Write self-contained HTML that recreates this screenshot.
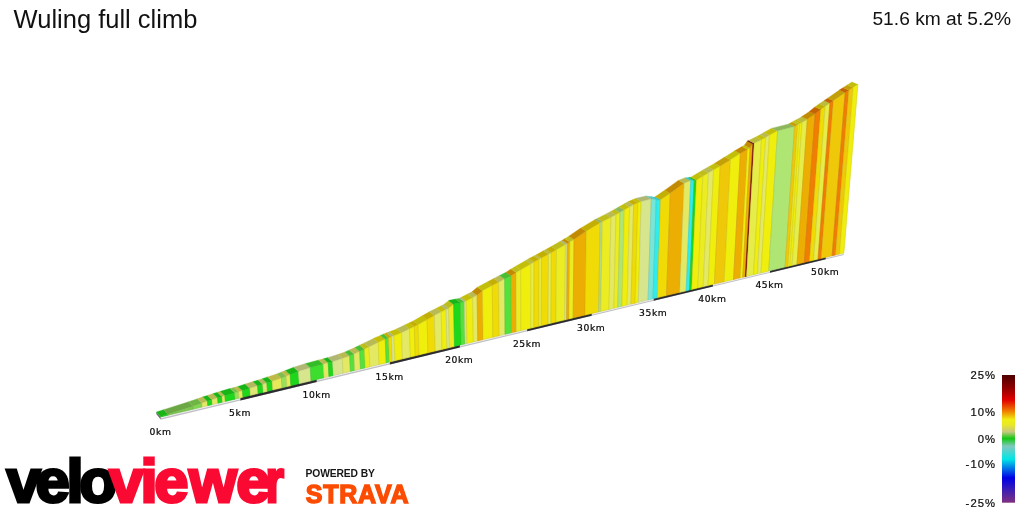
<!DOCTYPE html>
<html><head><meta charset="utf-8"><title>Wuling full climb</title>
<style>
html,body{margin:0;padding:0;background:#fff;}
body{width:1024px;height:512px;overflow:hidden;position:relative;font-family:"Liberation Sans",sans-serif;color:#111;}
#title{position:absolute;left:13.6px;top:3.7px;font-size:25.5px;line-height:30px;white-space:nowrap;color:#111;}
#stat{position:absolute;right:12.9px;top:7px;font-size:19.2px;line-height:24px;white-space:nowrap;color:#111;}
svg{position:absolute;left:0;top:0;}
.km{font-family:"DejaVu Sans","Liberation Sans",sans-serif;font-size:9.2px;letter-spacing:0.55px;fill:#0a0a0a;stroke:#0a0a0a;stroke-width:0.22px;text-anchor:middle;}
.lg{font-family:"Liberation Sans",sans-serif;font-size:11.3px;letter-spacing:1.05px;fill:#0c0c0c;stroke:#0c0c0c;stroke-width:0.2px;text-anchor:end;}
</style></head><body>
<div id="title">Wuling full climb</div>
<div id="stat">51.6 km at 5.2%</div>
<svg width="1024" height="512" viewBox="0 0 1024 512">
<defs>
<linearGradient id="lgd" x1="0" y1="0" x2="0" y2="1">
<stop offset="0" stop-color="#4c0000"/>
<stop offset="0.11" stop-color="#960000"/>
<stop offset="0.195" stop-color="#e20000"/>
<stop offset="0.285" stop-color="#f08200"/>
<stop offset="0.35" stop-color="#f0f014"/>
<stop offset="0.39" stop-color="#e8e828"/>
<stop offset="0.445" stop-color="#c8c882"/>
<stop offset="0.497" stop-color="#14c814"/>
<stop offset="0.558" stop-color="#82c8be"/>
<stop offset="0.659" stop-color="#00e6e6"/>
<stop offset="0.806" stop-color="#0000e6"/>
<stop offset="0.90" stop-color="#3c1eb4"/>
<stop offset="1" stop-color="#803080"/>
</linearGradient>

</defs>
<g shape-rendering="geometricPrecision">
<polygon points="160.70,416.74 843.90,252.81 843.90,253.95 160.70,418.32" fill="#f2f2f4"/>
<polygon points="160.70,418.32 843.90,253.95 843.90,254.90 160.70,419.65" fill="#c0c0c5"/>
<polygon points="240.40,397.57 316.70,379.25 316.70,382.03 240.40,400.43" fill="#2a2a30"/>
<polygon points="389.90,361.68 459.80,344.90 459.80,347.52 389.90,364.38" fill="#2a2a30"/>
<polygon points="527.20,328.72 591.70,313.24 591.70,315.72 527.20,331.27" fill="#2a2a30"/>
<polygon points="653.70,298.36 712.90,284.15 712.90,286.49 653.70,300.77" fill="#2a2a30"/>
<polygon points="770.00,270.44 825.70,257.07 825.70,259.29 770.00,272.72" fill="#2a2a30"/>
<polygon points="160.70,416.50 160.70,419.50 156.30,414.00 156.30,411.90" fill="#6e6e6e"/>
<polygon points="160.65,416.50 160.70,416.50 167.95,414.20 163.53,409.63 156.30,411.90 156.25,411.90" fill="#18b516" stroke="#18b516" stroke-width="0.3"/>
<polygon points="167.95,414.20 192.25,406.50 192.88,406.28 188.41,401.78 187.78,402.00 163.53,409.63" fill="#6ba844" stroke="#6ba844" stroke-width="0.3"/>
<polygon points="192.88,406.28 201.90,403.15 197.41,398.68 188.41,401.78" fill="#6fb544" stroke="#6fb544" stroke-width="0.3"/>
<polygon points="201.90,403.15 207.25,401.30 207.35,401.27 202.85,396.81 202.75,396.84 197.41,398.68" fill="#b9ba51" stroke="#b9ba51" stroke-width="0.3"/>
<polygon points="207.35,401.27 211.93,399.83 207.42,395.38 202.85,396.81" fill="#18b516" stroke="#18b516" stroke-width="0.3"/>
<polygon points="211.93,399.83 217.60,398.04 213.08,393.62 207.42,395.38" fill="#b9ba51" stroke="#b9ba51" stroke-width="0.3"/>
<polygon points="217.60,398.04 221.98,396.67 217.45,392.25 213.08,393.62" fill="#18b516" stroke="#18b516" stroke-width="0.3"/>
<polygon points="221.98,396.67 224.10,396.00 224.87,395.77 220.33,391.37 219.56,391.59 217.45,392.25" fill="#b9ba51" stroke="#b9ba51" stroke-width="0.3"/>
<polygon points="224.87,395.77 234.10,393.00 234.64,392.86 230.08,388.49 229.54,388.62 220.33,391.37" fill="#18b516" stroke="#18b516" stroke-width="0.3"/>
<polygon points="234.64,392.86 238.54,391.86 233.97,387.49 230.08,388.49" fill="#81bd4d" stroke="#81bd4d" stroke-width="0.3"/>
<polygon points="238.54,391.86 242.25,390.90 242.44,390.84 237.86,386.48 237.67,386.55 233.97,387.49" fill="#bdba47" stroke="#bdba47" stroke-width="0.3"/>
<polygon points="242.44,390.84 249.80,388.35 245.21,384.02 237.86,386.48" fill="#18b516" stroke="#18b516" stroke-width="0.3"/>
<polygon points="249.80,388.35 253.80,387.00 257.57,385.92 252.96,381.62 249.20,382.68 245.21,384.02" fill="#b4b75e" stroke="#b4b75e" stroke-width="0.3"/>
<polygon points="257.57,385.92 259.75,385.30 262.66,384.34 258.04,380.05 255.13,381.00 252.96,381.62" fill="#18b516" stroke="#18b516" stroke-width="0.3"/>
<polygon points="262.66,384.34 266.84,382.96 262.21,378.69 258.04,380.05" fill="#b4b75e" stroke="#b4b75e" stroke-width="0.3"/>
<polygon points="266.84,382.96 272.12,381.22 267.48,376.96 262.21,378.69" fill="#18b516" stroke="#18b516" stroke-width="0.3"/>
<polygon points="272.12,381.22 281.00,378.30 281.39,378.15 276.73,373.91 276.34,374.07 267.48,376.96" fill="#bdba47" stroke="#bdba47" stroke-width="0.3"/>
<polygon points="281.39,378.15 286.25,376.20 281.58,371.98 276.73,373.91" fill="#81bd4d" stroke="#81bd4d" stroke-width="0.3"/>
<polygon points="286.25,376.20 289.75,374.80 290.12,374.66 285.44,370.45 285.07,370.59 281.58,371.98" fill="#bdba47" stroke="#bdba47" stroke-width="0.3"/>
<polygon points="290.12,374.66 298.37,371.45 293.67,367.26 285.44,370.45" fill="#18b516" stroke="#18b516" stroke-width="0.3"/>
<polygon points="298.37,371.45 299.00,371.20 310.24,367.65 305.52,363.50 294.30,367.02 293.67,367.26" fill="#afb772" stroke="#afb772" stroke-width="0.3"/>
<polygon points="310.24,367.65 310.40,367.60 323.25,364.17 318.50,360.07 305.68,363.45 305.52,363.50" fill="#35bb27" stroke="#35bb27" stroke-width="0.3"/>
<polygon points="323.25,364.17 328.16,362.86 323.40,358.77 318.50,360.07" fill="#b9ba51" stroke="#b9ba51" stroke-width="0.3"/>
<polygon points="328.16,362.86 332.57,361.69 327.79,357.61 323.40,358.77" fill="#18b516" stroke="#18b516" stroke-width="0.3"/>
<polygon points="332.57,361.69 332.90,361.60 342.35,358.46 337.55,354.41 328.13,357.52 327.79,357.61" fill="#afb772" stroke="#afb772" stroke-width="0.3"/>
<polygon points="342.35,358.46 349.64,356.04 344.83,352.01 337.55,354.41" fill="#b9ba51" stroke="#b9ba51" stroke-width="0.3"/>
<polygon points="349.64,356.04 349.75,356.00 354.00,354.04 349.19,350.03 344.94,351.97 344.83,352.01" fill="#49bd33" stroke="#49bd33" stroke-width="0.3"/>
<polygon points="354.00,354.04 359.67,351.44 354.84,347.44 349.19,350.03" fill="#b9ba51" stroke="#b9ba51" stroke-width="0.3"/>
<polygon points="359.67,351.44 364.44,349.24 359.60,345.26 354.84,347.44" fill="#49bd33" stroke="#49bd33" stroke-width="0.3"/>
<polygon points="364.44,349.24 364.75,349.10 369.00,346.98 364.15,343.01 359.91,345.12 359.60,345.26" fill="#bfbd1b" stroke="#bfbd1b" stroke-width="0.3"/>
<polygon points="369.00,346.98 378.25,342.38 373.38,338.44 364.15,343.01" fill="#b9ba51" stroke="#b9ba51" stroke-width="0.3"/>
<polygon points="378.25,342.38 378.50,342.25 385.23,339.32 380.34,335.40 373.63,338.31 373.38,338.44" fill="#c3be09" stroke="#c3be09" stroke-width="0.3"/>
<polygon points="385.23,339.32 388.52,337.89 383.63,333.98 380.34,335.40" fill="#49bd33" stroke="#49bd33" stroke-width="0.3"/>
<polygon points="388.52,337.89 391.42,336.76 386.52,332.85 383.63,333.98" fill="#c3ae04" stroke="#c3ae04" stroke-width="0.3"/>
<polygon points="391.42,336.76 394.02,335.74 389.12,331.84 386.52,332.85" fill="#afb772" stroke="#afb772" stroke-width="0.3"/>
<polygon points="394.02,335.74 401.00,333.00 401.62,332.70 396.70,328.83 396.08,329.13 389.12,331.84" fill="#c3be09" stroke="#c3be09" stroke-width="0.3"/>
<polygon points="401.62,332.70 409.51,328.92 404.57,325.07 396.70,328.83" fill="#b9ba51" stroke="#b9ba51" stroke-width="0.3"/>
<polygon points="409.51,328.92 414.30,326.61 409.36,322.78 404.57,325.07" fill="#c3be09" stroke="#c3be09" stroke-width="0.3"/>
<polygon points="414.30,326.61 418.10,324.79 413.15,320.97 409.36,322.78" fill="#c3ae04" stroke="#c3ae04" stroke-width="0.3"/>
<polygon points="418.10,324.79 418.50,324.60 427.09,319.66 422.11,315.87 413.54,320.78 413.15,320.97" fill="#c3be09" stroke="#c3be09" stroke-width="0.3"/>
<polygon points="427.09,319.66 434.38,315.46 429.39,311.69 422.11,315.87" fill="#c3ae04" stroke="#c3ae04" stroke-width="0.3"/>
<polygon points="434.38,315.46 434.75,315.25 441.20,312.04 436.19,308.29 429.76,311.48 429.39,311.69" fill="#b9ba51" stroke="#b9ba51" stroke-width="0.3"/>
<polygon points="441.20,312.04 446.11,309.59 441.09,305.85 436.19,308.29" fill="#c3be09" stroke="#c3be09" stroke-width="0.3"/>
<polygon points="446.11,309.59 448.50,308.40 448.62,308.31 443.60,304.58 443.48,304.67 441.09,305.85" fill="#afb772" stroke="#afb772" stroke-width="0.3"/>
<polygon points="448.62,308.31 453.61,304.38 448.58,300.67 443.60,304.58" fill="#bfbd1b" stroke="#bfbd1b" stroke-width="0.3"/>
<polygon points="453.61,304.38 454.10,304.00 460.38,302.81 455.33,299.11 449.07,300.29 448.58,300.67" fill="#18b516" stroke="#18b516" stroke-width="0.3"/>
<polygon points="460.38,302.81 464.10,302.10 464.32,301.98 459.27,298.30 459.04,298.42 455.33,299.11" fill="#49bd33" stroke="#49bd33" stroke-width="0.3"/>
<polygon points="464.32,301.98 466.23,300.99 461.17,297.31 459.27,298.30" fill="#afb772" stroke="#afb772" stroke-width="0.3"/>
<polygon points="466.23,300.99 472.67,297.63 467.60,293.98 461.17,297.31" fill="#c3be09" stroke="#c3be09" stroke-width="0.3"/>
<polygon points="472.67,297.63 477.10,295.33 472.02,291.68 467.60,293.98" fill="#b9ba51" stroke="#b9ba51" stroke-width="0.3"/>
<polygon points="477.10,295.33 477.25,295.25 482.25,290.90 482.52,290.75 477.43,287.13 477.15,287.27 472.17,291.61 472.02,291.68" fill="#c18a02" stroke="#c18a02" stroke-width="0.3"/>
<polygon points="482.52,290.75 491.60,285.90 492.31,285.53 487.19,281.93 486.48,282.30 477.43,287.13" fill="#c3be09" stroke="#c3be09" stroke-width="0.3"/>
<polygon points="492.31,285.53 498.78,282.13 493.65,278.56 487.19,281.93" fill="#c3ae04" stroke="#c3ae04" stroke-width="0.3"/>
<polygon points="498.78,282.13 504.65,279.05 499.50,275.50 493.65,278.56" fill="#b9ba51" stroke="#b9ba51" stroke-width="0.3"/>
<polygon points="504.65,279.05 504.75,279.00 511.00,275.90 511.13,275.82 505.97,272.28 505.84,272.36 499.61,275.44 499.50,275.50" fill="#49bd33" stroke="#49bd33" stroke-width="0.3"/>
<polygon points="511.13,275.82 515.60,272.90 516.09,272.61 510.92,269.09 510.43,269.37 505.97,272.28" fill="#c18a02" stroke="#c18a02" stroke-width="0.3"/>
<polygon points="516.09,272.61 520.75,269.88 515.57,266.37 510.92,269.09" fill="#bfbd1b" stroke="#bfbd1b" stroke-width="0.3"/>
<polygon points="520.75,269.88 530.91,263.92 525.71,260.44 515.57,266.37" fill="#c3be09" stroke="#c3be09" stroke-width="0.3"/>
<polygon points="530.91,263.92 533.75,262.25 534.06,262.08 528.85,258.61 528.54,258.78 525.71,260.44" fill="#bbbc3a" stroke="#bbbc3a" stroke-width="0.3"/>
<polygon points="534.06,262.08 539.14,259.35 533.93,255.89 528.85,258.61" fill="#c3ae04" stroke="#c3ae04" stroke-width="0.3"/>
<polygon points="539.14,259.35 541.48,258.09 536.26,254.64 533.93,255.89" fill="#bbbc3a" stroke="#bbbc3a" stroke-width="0.3"/>
<polygon points="541.48,258.09 548.51,254.30 543.27,250.87 536.26,254.64" fill="#c3ae04" stroke="#c3ae04" stroke-width="0.3"/>
<polygon points="548.51,254.30 550.00,253.50 551.37,252.72 546.12,249.30 544.76,250.08 543.27,250.87" fill="#bbbc3a" stroke="#bbbc3a" stroke-width="0.3"/>
<polygon points="551.37,252.72 556.47,249.80 551.21,246.40 546.12,249.30" fill="#c3ae04" stroke="#c3ae04" stroke-width="0.3"/>
<polygon points="556.47,249.80 565.46,244.67 560.18,241.29 551.21,246.40" fill="#bfbd1b" stroke="#bfbd1b" stroke-width="0.3"/>
<polygon points="565.46,244.67 567.30,243.61 562.02,240.25 560.18,241.29" fill="#afb772" stroke="#afb772" stroke-width="0.3"/>
<polygon points="567.30,243.61 567.50,243.50 569.86,242.09 564.57,238.72 562.22,240.13 562.02,240.25" fill="#c18a02" stroke="#c18a02" stroke-width="0.3"/>
<polygon points="569.86,242.09 573.75,239.75 574.06,239.54 568.76,236.19 568.46,236.40 564.57,238.72" fill="#bfbd1b" stroke="#bfbd1b" stroke-width="0.3"/>
<polygon points="574.06,239.54 585.60,231.60 586.27,231.19 580.95,227.88 580.28,228.29 568.76,236.19" fill="#c18a02" stroke="#c18a02" stroke-width="0.3"/>
<polygon points="586.27,231.19 600.00,222.90 600.26,222.77 594.91,219.50 594.65,219.63 580.95,227.88" fill="#c3ae04" stroke="#c3ae04" stroke-width="0.3"/>
<polygon points="600.26,222.77 602.42,221.68 597.06,218.42 594.91,219.50" fill="#92af69" stroke="#92af69" stroke-width="0.3"/>
<polygon points="602.42,221.68 610.96,217.40 605.59,214.16 597.06,218.42" fill="#bfbd1b" stroke="#bfbd1b" stroke-width="0.3"/>
<polygon points="610.96,217.40 611.25,217.25 616.01,214.63 610.63,211.41 605.88,214.01 605.59,214.16" fill="#b9ba51" stroke="#b9ba51" stroke-width="0.3"/>
<polygon points="616.01,214.63 620.03,212.41 614.64,209.20 610.63,211.41" fill="#bfbd1b" stroke="#bfbd1b" stroke-width="0.3"/>
<polygon points="620.03,212.41 620.60,212.10 624.37,209.95 618.97,206.75 615.21,208.89 614.64,209.20" fill="#8eb75d" stroke="#8eb75d" stroke-width="0.3"/>
<polygon points="624.37,209.95 629.64,206.94 624.23,203.76 618.97,206.75" fill="#c3be09" stroke="#c3be09" stroke-width="0.3"/>
<polygon points="629.64,206.94 633.68,204.64 628.25,201.47 624.23,203.76" fill="#b9ba51" stroke="#b9ba51" stroke-width="0.3"/>
<polygon points="633.68,204.64 633.75,204.60 637.90,202.88 632.47,199.73 628.33,201.43 628.25,201.47" fill="#c3ae04" stroke="#c3ae04" stroke-width="0.3"/>
<polygon points="637.90,202.88 641.20,201.52 635.76,198.37 632.47,199.73" fill="#c3be09" stroke="#c3be09" stroke-width="0.3"/>
<polygon points="641.20,201.52 651.26,199.00 645.80,195.89 635.76,198.37" fill="#afb772" stroke="#afb772" stroke-width="0.3"/>
<polygon points="651.26,199.00 656.22,199.71 650.75,196.61 645.80,195.89" fill="#67c1b8" stroke="#67c1b8" stroke-width="0.3"/>
<polygon points="656.22,199.71 660.00,200.25 660.59,199.84 655.11,196.76 654.52,197.16 650.75,196.61" fill="#2bc6ca" stroke="#2bc6ca" stroke-width="0.3"/>
<polygon points="660.59,199.84 670.00,193.40 670.29,193.19 664.78,190.13 664.50,190.34 655.11,196.76" fill="#c3ae04" stroke="#c3ae04" stroke-width="0.3"/>
<polygon points="670.29,193.19 683.75,183.40 684.10,183.26 678.57,180.24 678.22,180.38 664.78,190.13" fill="#c18a02" stroke="#c18a02" stroke-width="0.3"/>
<polygon points="684.10,183.26 690.00,180.90 690.72,180.83 685.17,177.83 684.46,177.90 678.57,180.24" fill="#b9ba51" stroke="#b9ba51" stroke-width="0.3"/>
<polygon points="690.72,180.83 694.19,180.46 688.64,177.48 685.17,177.83" fill="#2bc6ca" stroke="#2bc6ca" stroke-width="0.3"/>
<polygon points="694.19,180.46 696.25,180.25 696.45,180.13 690.89,177.15 690.69,177.27 688.64,177.48" fill="#18b516" stroke="#18b516" stroke-width="0.3"/>
<polygon points="696.45,180.13 702.82,176.31 697.25,173.35 690.89,177.15" fill="#c3be09" stroke="#c3be09" stroke-width="0.3"/>
<polygon points="702.82,176.31 708.48,172.91 702.89,169.97 697.25,173.35" fill="#bfbd1b" stroke="#bfbd1b" stroke-width="0.3"/>
<polygon points="708.48,172.91 708.75,172.75 713.61,170.01 708.01,167.08 703.17,169.81 702.89,169.97" fill="#b9ba51" stroke="#b9ba51" stroke-width="0.3"/>
<polygon points="713.61,170.01 718.75,167.10 720.21,166.19 714.60,163.28 713.14,164.19 708.01,167.08" fill="#c3be09" stroke="#c3be09" stroke-width="0.3"/>
<polygon points="720.21,166.19 729.50,160.40 730.53,159.75 724.90,156.88 723.87,157.52 714.60,163.28" fill="#c39f08" stroke="#c39f08" stroke-width="0.3"/>
<polygon points="730.53,159.75 739.50,154.10 740.34,153.61 734.69,150.77 733.85,151.25 724.90,156.88" fill="#c3be09" stroke="#c3be09" stroke-width="0.3"/>
<polygon points="740.34,153.61 747.51,149.45 741.84,146.62 734.69,150.77" fill="#c18a02" stroke="#c18a02" stroke-width="0.3"/>
<polygon points="747.51,149.45 750.04,147.94 744.37,145.13 741.84,146.62" fill="#c3be09" stroke="#c3be09" stroke-width="0.3"/>
<polygon points="750.04,147.94 752.93,143.90 747.25,141.10 744.37,145.13" fill="#c18a02" stroke="#c18a02" stroke-width="0.3"/>
<polygon points="752.93,143.90 753.00,143.80 754.19,143.25 748.51,140.44 747.32,140.99 747.25,141.10" fill="#650304" stroke="#650304" stroke-width="0.3"/>
<polygon points="754.19,143.25 761.40,139.90 761.54,139.82 755.84,137.04 755.70,137.12 748.51,140.44" fill="#bbbc3a" stroke="#bbbc3a" stroke-width="0.3"/>
<polygon points="761.54,139.82 765.66,137.50 759.95,134.73 755.84,137.04" fill="#c3be09" stroke="#c3be09" stroke-width="0.3"/>
<polygon points="765.66,137.50 769.47,135.36 763.75,132.60 759.95,134.73" fill="#b9ba51" stroke="#b9ba51" stroke-width="0.3"/>
<polygon points="769.47,135.36 777.20,131.00 777.61,130.90 771.88,128.16 771.47,128.26 763.75,132.60" fill="#c3be09" stroke="#c3be09" stroke-width="0.3"/>
<polygon points="777.61,130.90 794.50,126.60 794.64,126.52 788.87,123.84 788.73,123.92 771.88,128.16" fill="#8eb75d" stroke="#8eb75d" stroke-width="0.3"/>
<polygon points="794.64,126.52 797.83,124.77 792.05,122.09 788.87,123.84" fill="#c39f08" stroke="#c39f08" stroke-width="0.3"/>
<polygon points="797.83,124.77 799.74,123.71 793.95,121.05 792.05,122.09" fill="#bfbd1b" stroke="#bfbd1b" stroke-width="0.3"/>
<polygon points="799.74,123.71 802.07,122.43 796.28,119.77 793.95,121.05" fill="#c3be09" stroke="#c3be09" stroke-width="0.3"/>
<polygon points="802.07,122.43 805.75,120.40 807.29,119.36 801.49,116.72 799.96,117.75 796.28,119.77" fill="#bbbc3a" stroke="#bbbc3a" stroke-width="0.3"/>
<polygon points="807.29,119.36 814.50,114.50 815.13,114.00 809.31,111.38 808.69,111.88 801.49,116.72" fill="#c18a02" stroke="#c18a02" stroke-width="0.3"/>
<polygon points="815.13,114.00 820.60,109.60 820.77,109.48 814.94,106.88 814.77,107.00 809.31,111.38" fill="#c36401" stroke="#c36401" stroke-width="0.3"/>
<polygon points="820.77,109.48 825.19,106.43 819.35,103.84 814.94,106.88" fill="#c3ae04" stroke="#c3ae04" stroke-width="0.3"/>
<polygon points="825.19,106.43 829.94,103.14 824.09,100.57 819.35,103.84" fill="#bbbc3a" stroke="#bbbc3a" stroke-width="0.3"/>
<polygon points="829.94,103.14 830.00,103.10 833.39,100.76 827.54,98.20 824.15,100.52 824.09,100.57" fill="#c36401" stroke="#c36401" stroke-width="0.3"/>
<polygon points="833.39,100.76 845.18,92.64 839.30,90.11 827.54,98.20" fill="#c39f08" stroke="#c39f08" stroke-width="0.3"/>
<polygon points="845.18,92.64 846.25,91.90 848.86,90.20 842.97,87.68 840.37,89.37 839.30,90.11" fill="#c36401" stroke="#c36401" stroke-width="0.3"/>
<polygon points="848.86,90.20 853.18,87.38 847.28,84.88 842.97,87.68" fill="#c39f08" stroke="#c39f08" stroke-width="0.3"/>
<polygon points="853.18,87.38 857.75,84.40 857.93,84.40 852.02,81.91 851.84,81.91 847.28,84.88" fill="#c3be09" stroke="#c3be09" stroke-width="0.3"/>
<polygon points="160.70,417.00 168.05,415.24 167.95,414.20 160.70,416.50 160.65,416.50" fill="#1cd71a" stroke="#18b816" stroke-width="0.5"/>
<polygon points="168.05,415.24 193.15,409.21 192.88,406.28 192.25,406.50 167.95,414.20" fill="#7dc850" stroke="#6bac44" stroke-width="0.5"/>
<polygon points="193.15,409.21 202.25,407.03 201.90,403.15 192.88,406.28" fill="#82d750" stroke="#6fb844" stroke-width="0.5"/>
<polygon points="202.25,407.03 207.75,405.71 207.35,401.27 207.25,401.30 201.90,403.15" fill="#e4e964" stroke="#c4c856" stroke-width="0.5"/>
<polygon points="207.75,405.71 212.35,404.60 211.93,399.83 207.35,401.27" fill="#1cd71a" stroke="#18b816" stroke-width="0.5"/>
<polygon points="212.35,404.60 218.05,403.23 217.60,398.04 211.93,399.83" fill="#e4e964" stroke="#c4c856" stroke-width="0.5"/>
<polygon points="218.05,403.23 222.45,402.18 221.98,396.67 217.60,398.04" fill="#1cd71a" stroke="#18b816" stroke-width="0.5"/>
<polygon points="222.45,402.18 225.35,401.48 224.87,395.77 224.10,396.00 221.98,396.67" fill="#e4e964" stroke="#c4c856" stroke-width="0.5"/>
<polygon points="225.35,401.48 235.15,399.13 234.64,392.86 234.10,393.00 224.87,395.77" fill="#1cd71a" stroke="#18b816" stroke-width="0.5"/>
<polygon points="235.15,399.13 239.05,398.19 238.54,391.86 234.64,392.86" fill="#96e15a" stroke="#81c14d" stroke-width="0.5"/>
<polygon points="239.05,398.19 242.95,397.26 242.44,390.84 242.25,390.90 238.54,391.86" fill="#e8e958" stroke="#c7c84b" stroke-width="0.5"/>
<polygon points="242.95,397.26 250.35,395.48 249.80,388.35 242.44,390.84" fill="#1cd71a" stroke="#18b816" stroke-width="0.5"/>
<polygon points="250.35,395.48 258.15,393.61 257.57,385.92 253.80,387.00 249.80,388.35" fill="#dee674" stroke="#bec563" stroke-width="0.5"/>
<polygon points="258.15,393.61 263.25,392.38 262.66,384.34 259.75,385.30 257.57,385.92" fill="#1cd71a" stroke="#18b816" stroke-width="0.5"/>
<polygon points="263.25,392.38 267.45,391.38 266.84,382.96 262.66,384.34" fill="#dee674" stroke="#bec563" stroke-width="0.5"/>
<polygon points="267.45,391.38 272.75,390.10 272.12,381.22 266.84,382.96" fill="#1cd71a" stroke="#18b816" stroke-width="0.5"/>
<polygon points="272.75,390.10 282.05,387.87 281.39,378.15 281.00,378.30 272.12,381.22" fill="#e8e958" stroke="#c7c84b" stroke-width="0.5"/>
<polygon points="282.05,387.87 286.95,386.69 286.25,376.20 281.39,378.15" fill="#96e15a" stroke="#81c14d" stroke-width="0.5"/>
<polygon points="286.95,386.69 290.85,385.76 290.12,374.66 289.75,374.80 286.25,376.20" fill="#e8e958" stroke="#c7c84b" stroke-width="0.5"/>
<polygon points="290.85,385.76 299.15,383.77 298.37,371.45 290.12,374.66" fill="#1cd71a" stroke="#18b816" stroke-width="0.5"/>
<polygon points="299.15,383.77 311.04,380.91 310.24,367.65 299.00,371.20 298.37,371.45" fill="#d7e68c" stroke="#b8c578" stroke-width="0.5"/>
<polygon points="311.04,380.91 324.02,377.79 323.25,364.17 310.40,367.60 310.24,367.65" fill="#3ede2e" stroke="#35be27" stroke-width="0.5"/>
<polygon points="324.02,377.79 328.92,376.62 328.16,362.86 323.25,364.17" fill="#e4e964" stroke="#c4c856" stroke-width="0.5"/>
<polygon points="328.92,376.62 333.31,375.56 332.57,361.69 328.16,362.86" fill="#1cd71a" stroke="#18b816" stroke-width="0.5"/>
<polygon points="333.31,375.56 343.10,373.21 342.35,358.46 332.90,361.60 332.57,361.69" fill="#d7e68c" stroke="#b8c578" stroke-width="0.5"/>
<polygon points="343.10,373.21 350.39,371.46 349.64,356.04 342.35,358.46" fill="#e4e964" stroke="#c4c856" stroke-width="0.5"/>
<polygon points="350.39,371.46 354.79,370.41 354.00,354.04 349.75,356.00 349.64,356.04" fill="#55e13c" stroke="#49c133" stroke-width="0.5"/>
<polygon points="354.79,370.41 360.48,369.04 359.67,351.44 354.00,354.04" fill="#e4e964" stroke="#c4c856" stroke-width="0.5"/>
<polygon points="360.48,369.04 365.28,367.89 364.44,349.24 359.67,351.44" fill="#55e13c" stroke="#49c133" stroke-width="0.5"/>
<polygon points="365.28,367.89 369.87,366.79 369.00,346.98 364.75,349.10 364.44,349.24" fill="#ebed22" stroke="#cacb1d" stroke-width="0.5"/>
<polygon points="369.87,366.79 379.16,364.56 378.25,342.38 369.00,346.98" fill="#e4e964" stroke="#c4c856" stroke-width="0.5"/>
<polygon points="379.16,364.56 386.15,362.88 385.23,339.32 378.50,342.25 378.25,342.38" fill="#f0ee0c" stroke="#cecc0a" stroke-width="0.5"/>
<polygon points="386.15,362.88 389.45,362.09 388.52,337.89 385.23,339.32" fill="#55e13c" stroke="#49c133" stroke-width="0.5"/>
<polygon points="389.45,362.09 392.35,361.39 391.42,336.76 388.52,337.89" fill="#f0db06" stroke="#cebc05" stroke-width="0.5"/>
<polygon points="392.35,361.39 394.94,360.77 394.02,335.74 391.42,336.76" fill="#d7e68c" stroke="#b8c578" stroke-width="0.5"/>
<polygon points="394.94,360.77 402.54,358.95 401.62,332.70 401.00,333.00 394.02,335.74" fill="#f0ee0c" stroke="#cecc0a" stroke-width="0.5"/>
<polygon points="402.54,358.95 410.43,357.05 409.51,328.92 401.62,332.70" fill="#e4e964" stroke="#c4c856" stroke-width="0.5"/>
<polygon points="410.43,357.05 415.22,355.90 414.30,326.61 409.51,328.92" fill="#f0ee0c" stroke="#cecc0a" stroke-width="0.5"/>
<polygon points="415.22,355.90 419.02,354.99 418.10,324.79 414.30,326.61" fill="#f0db06" stroke="#cebc05" stroke-width="0.5"/>
<polygon points="419.02,354.99 428.01,352.83 427.09,319.66 418.50,324.60 418.10,324.79" fill="#f0ee0c" stroke="#cecc0a" stroke-width="0.5"/>
<polygon points="428.01,352.83 435.30,351.08 434.38,315.46 427.09,319.66" fill="#f0db06" stroke="#cebc05" stroke-width="0.5"/>
<polygon points="435.30,351.08 442.09,349.45 441.20,312.04 434.75,315.25 434.38,315.46" fill="#e4e964" stroke="#c4c856" stroke-width="0.5"/>
<polygon points="442.09,349.45 446.99,348.28 446.11,309.59 441.20,312.04" fill="#f0ee0c" stroke="#cecc0a" stroke-width="0.5"/>
<polygon points="446.99,348.28 449.48,347.68 448.62,308.31 448.50,308.40 446.11,309.59" fill="#d7e68c" stroke="#b8c578" stroke-width="0.5"/>
<polygon points="449.48,347.68 454.48,346.48 453.61,304.38 448.62,308.31" fill="#ebed22" stroke="#cacb1d" stroke-width="0.5"/>
<polygon points="454.48,346.48 461.17,344.87 460.38,302.81 454.10,304.00 453.61,304.38" fill="#1cd71a" stroke="#18b816" stroke-width="0.5"/>
<polygon points="461.17,344.87 465.06,343.94 464.32,301.98 464.10,302.10 460.38,302.81" fill="#55e13c" stroke="#49c133" stroke-width="0.5"/>
<polygon points="465.06,343.94 466.96,343.48 466.23,300.99 464.32,301.98" fill="#d7e68c" stroke="#b8c578" stroke-width="0.5"/>
<polygon points="466.96,343.48 473.36,341.95 472.67,297.63 466.23,300.99" fill="#f0ee0c" stroke="#cecc0a" stroke-width="0.5"/>
<polygon points="473.36,341.95 477.75,340.89 477.10,295.33 472.67,297.63" fill="#e4e964" stroke="#c4c856" stroke-width="0.5"/>
<polygon points="477.75,340.89 483.14,339.60 482.52,290.75 482.25,290.90 477.25,295.25 477.10,295.33" fill="#edae03" stroke="#cb9502" stroke-width="0.5"/>
<polygon points="483.14,339.60 492.83,337.27 492.31,285.53 491.60,285.90 482.52,290.75" fill="#f0ee0c" stroke="#cecc0a" stroke-width="0.5"/>
<polygon points="492.83,337.27 499.23,335.74 498.78,282.13 492.31,285.53" fill="#f0db06" stroke="#cebc05" stroke-width="0.5"/>
<polygon points="499.23,335.74 505.02,334.35 504.65,279.05 498.78,282.13" fill="#e4e964" stroke="#c4c856" stroke-width="0.5"/>
<polygon points="505.02,334.35 511.41,332.81 511.13,275.82 511.00,275.90 504.75,279.00 504.65,279.05" fill="#55e13c" stroke="#49c133" stroke-width="0.5"/>
<polygon points="511.41,332.81 516.31,331.64 516.09,272.61 515.60,272.90 511.13,275.82" fill="#edae03" stroke="#cb9502" stroke-width="0.5"/>
<polygon points="516.31,331.64 520.90,330.53 520.75,269.88 516.09,272.61" fill="#ebed22" stroke="#cacb1d" stroke-width="0.5"/>
<polygon points="520.90,330.53 530.89,328.14 530.91,263.92 520.75,269.88" fill="#f0ee0c" stroke="#cecc0a" stroke-width="0.5"/>
<polygon points="530.89,328.14 533.99,327.39 534.06,262.08 533.75,262.25 530.91,263.92" fill="#e6ec48" stroke="#c5ca3d" stroke-width="0.5"/>
<polygon points="533.99,327.39 538.98,326.19 539.14,259.35 534.06,262.08" fill="#f0db06" stroke="#cebc05" stroke-width="0.5"/>
<polygon points="538.98,326.19 541.28,325.64 541.48,258.09 539.14,259.35" fill="#e6ec48" stroke="#c5ca3d" stroke-width="0.5"/>
<polygon points="541.28,325.64 548.17,323.99 548.51,254.30 541.48,258.09" fill="#f0db06" stroke="#cebc05" stroke-width="0.5"/>
<polygon points="548.17,323.99 550.97,323.32 551.37,252.72 550.00,253.50 548.51,254.30" fill="#e6ec48" stroke="#c5ca3d" stroke-width="0.5"/>
<polygon points="550.97,323.32 555.96,322.12 556.47,249.80 551.37,252.72" fill="#f0db06" stroke="#cebc05" stroke-width="0.5"/>
<polygon points="555.96,322.12 564.75,320.01 565.46,244.67 556.47,249.80" fill="#ebed22" stroke="#cacb1d" stroke-width="0.5"/>
<polygon points="564.75,320.01 566.55,319.58 567.30,243.61 565.46,244.67" fill="#d7e68c" stroke="#b8c578" stroke-width="0.5"/>
<polygon points="566.55,319.58 569.05,318.98 569.86,242.09 567.50,243.50 567.30,243.61" fill="#edae03" stroke="#cb9502" stroke-width="0.5"/>
<polygon points="569.05,318.98 573.14,317.99 574.06,239.54 573.75,239.75 569.86,242.09" fill="#ebed22" stroke="#cacb1d" stroke-width="0.5"/>
<polygon points="573.14,317.99 585.03,315.14 586.27,231.19 585.60,231.60 574.06,239.54" fill="#edae03" stroke="#cb9502" stroke-width="0.5"/>
<polygon points="585.03,315.14 598.61,311.88 600.26,222.77 600.00,222.90 586.27,231.19" fill="#f0db06" stroke="#cebc05" stroke-width="0.5"/>
<polygon points="598.61,311.88 600.71,311.38 602.42,221.68 600.26,222.77" fill="#b4dc82" stroke="#9abd6f" stroke-width="0.5"/>
<polygon points="600.71,311.38 609.00,309.39 610.96,217.40 602.42,221.68" fill="#ebed22" stroke="#cacb1d" stroke-width="0.5"/>
<polygon points="609.00,309.39 613.90,308.21 616.01,214.63 611.25,217.25 610.96,217.40" fill="#e4e964" stroke="#c4c856" stroke-width="0.5"/>
<polygon points="613.90,308.21 617.79,307.28 620.03,212.41 616.01,214.63" fill="#ebed22" stroke="#cacb1d" stroke-width="0.5"/>
<polygon points="617.79,307.28 621.99,306.27 624.37,209.95 620.60,212.10 620.03,212.41" fill="#afe673" stroke="#96c562" stroke-width="0.5"/>
<polygon points="621.99,306.27 627.08,305.05 629.64,206.94 624.37,209.95" fill="#f0ee0c" stroke="#cecc0a" stroke-width="0.5"/>
<polygon points="627.08,305.05 630.98,304.11 633.68,204.64 629.64,206.94" fill="#e4e964" stroke="#c4c856" stroke-width="0.5"/>
<polygon points="630.98,304.11 635.07,303.13 637.90,202.88 633.75,204.60 633.68,204.64" fill="#f0db06" stroke="#cebc05" stroke-width="0.5"/>
<polygon points="635.07,303.13 638.27,302.36 641.20,201.52 637.90,202.88" fill="#f0ee0c" stroke="#cecc0a" stroke-width="0.5"/>
<polygon points="638.27,302.36 648.06,300.01 651.26,199.00 641.20,201.52" fill="#d7e68c" stroke="#b8c578" stroke-width="0.5"/>
<polygon points="648.06,300.01 652.95,298.84 656.22,199.71 651.26,199.00" fill="#78e6d7" stroke="#67c5b8" stroke-width="0.5"/>
<polygon points="652.95,298.84 657.25,297.81 660.59,199.84 660.00,200.25 656.22,199.71" fill="#32ebeb" stroke="#2bcaca" stroke-width="0.5"/>
<polygon points="657.25,297.81 666.54,295.58 670.29,193.19 670.00,193.40 660.59,199.84" fill="#f0db06" stroke="#cebc05" stroke-width="0.5"/>
<polygon points="666.54,295.58 679.72,292.41 684.10,183.26 683.75,183.40 670.29,193.19" fill="#edae03" stroke="#cb9502" stroke-width="0.5"/>
<polygon points="679.72,292.41 686.12,290.88 690.72,180.83 690.00,180.90 684.10,183.26" fill="#e4e964" stroke="#c4c856" stroke-width="0.5"/>
<polygon points="686.12,290.88 689.51,290.06 694.19,180.46 690.72,180.83" fill="#32ebeb" stroke="#2bcaca" stroke-width="0.5"/>
<polygon points="689.51,290.06 691.71,289.53 696.45,180.13 696.25,180.25 694.19,180.46" fill="#1cd71a" stroke="#18b816" stroke-width="0.5"/>
<polygon points="691.71,289.53 697.80,288.07 702.82,176.31 696.45,180.13" fill="#f0ee0c" stroke="#cecc0a" stroke-width="0.5"/>
<polygon points="697.80,288.07 703.20,286.77 708.48,172.91 702.82,176.31" fill="#ebed22" stroke="#cacb1d" stroke-width="0.5"/>
<polygon points="703.20,286.77 708.10,285.60 713.61,170.01 708.75,172.75 708.48,172.91" fill="#e4e964" stroke="#c4c856" stroke-width="0.5"/>
<polygon points="708.10,285.60 714.40,284.09 720.21,166.19 718.75,167.10 713.61,170.01" fill="#f0ee0c" stroke="#cecc0a" stroke-width="0.5"/>
<polygon points="714.40,284.09 724.20,281.73 730.53,159.75 729.50,160.40 720.21,166.19" fill="#f0c80a" stroke="#ceac08" stroke-width="0.5"/>
<polygon points="724.20,281.73 733.50,279.50 740.34,153.61 739.50,154.10 730.53,159.75" fill="#f0ee0c" stroke="#cecc0a" stroke-width="0.5"/>
<polygon points="733.50,279.50 740.30,277.87 747.51,149.45 740.34,153.61" fill="#edae03" stroke="#cb9502" stroke-width="0.5"/>
<polygon points="740.30,277.87 742.70,277.29 750.04,147.94 747.51,149.45" fill="#f0ee0c" stroke="#cecc0a" stroke-width="0.5"/>
<polygon points="742.70,277.29 745.30,276.67 752.93,143.90 750.04,147.94" fill="#edae03" stroke="#cb9502" stroke-width="0.5"/>
<polygon points="745.30,276.67 746.50,276.38 754.19,143.25 753.00,143.80 752.93,143.90" fill="#7d0505" stroke="#6b0404" stroke-width="0.5"/>
<polygon points="746.50,276.38 753.50,274.70 761.54,139.82 761.40,139.90 754.19,143.25" fill="#e6ec48" stroke="#c5ca3d" stroke-width="0.5"/>
<polygon points="753.50,274.70 757.40,273.76 765.66,137.50 761.54,139.82" fill="#f0ee0c" stroke="#cecc0a" stroke-width="0.5"/>
<polygon points="757.40,273.76 761.00,272.90 769.47,135.36 765.66,137.50" fill="#e4e964" stroke="#c4c856" stroke-width="0.5"/>
<polygon points="761.00,272.90 768.70,271.05 777.61,130.90 777.20,131.00 769.47,135.36" fill="#f0ee0c" stroke="#cecc0a" stroke-width="0.5"/>
<polygon points="768.70,271.05 785.10,267.11 794.64,126.52 794.50,126.60 777.61,130.90" fill="#afe673" stroke="#96c562" stroke-width="0.5"/>
<polygon points="785.10,267.11 788.10,266.39 797.83,124.77 794.64,126.52" fill="#f0c80a" stroke="#ceac08" stroke-width="0.5"/>
<polygon points="788.10,266.39 789.90,265.96 799.74,123.71 797.83,124.77" fill="#ebed22" stroke="#cacb1d" stroke-width="0.5"/>
<polygon points="789.90,265.96 792.10,265.43 802.07,122.43 799.74,123.71" fill="#f0ee0c" stroke="#cecc0a" stroke-width="0.5"/>
<polygon points="792.10,265.43 797.00,264.26 807.29,119.36 805.75,120.40 802.07,122.43" fill="#e6ec48" stroke="#c5ca3d" stroke-width="0.5"/>
<polygon points="797.00,264.26 804.30,262.51 815.13,114.00 814.50,114.50 807.29,119.36" fill="#edae03" stroke="#cb9502" stroke-width="0.5"/>
<polygon points="804.30,262.51 809.50,261.26 820.77,109.48 820.60,109.60 815.13,114.00" fill="#f07e02" stroke="#ce6c01" stroke-width="0.5"/>
<polygon points="809.50,261.26 813.60,260.27 825.19,106.43 820.77,109.48" fill="#f0db06" stroke="#cebc05" stroke-width="0.5"/>
<polygon points="813.60,260.27 818.00,259.22 829.94,103.14 825.19,106.43" fill="#e6ec48" stroke="#c5ca3d" stroke-width="0.5"/>
<polygon points="818.00,259.22 821.20,258.45 833.39,100.76 830.00,103.10 829.94,103.14" fill="#f07e02" stroke="#ce6c01" stroke-width="0.5"/>
<polygon points="821.20,258.45 832.10,255.83 845.18,92.64 833.39,100.76" fill="#f0c80a" stroke="#ceac08" stroke-width="0.5"/>
<polygon points="832.10,255.83 835.50,255.02 848.86,90.20 846.25,91.90 845.18,92.64" fill="#f07e02" stroke="#ce6c01" stroke-width="0.5"/>
<polygon points="835.50,255.02 839.50,254.06 853.18,87.38 848.86,90.20" fill="#f0c80a" stroke="#ceac08" stroke-width="0.5"/>
<polygon points="839.50,254.06 843.90,253.00 857.93,84.40 857.75,84.40 853.18,87.38" fill="#f0ee0c" stroke="#cecc0a" stroke-width="0.5"/>
</g>
<g class="km">
<text x="160.5" y="435">0km</text>
<text x="240" y="416">5km</text>
<text x="316.6" y="398">10km</text>
<text x="389.7" y="380">15km</text>
<text x="459.3" y="363">20km</text>
<text x="527" y="347">25km</text>
<text x="591.2" y="331">30km</text>
<text x="653.2" y="316">35km</text>
<text x="712.4" y="301.5">40km</text>
<text x="769.5" y="288">45km</text>
<text x="825.2" y="275">50km</text>
</g>
<rect x="1002" y="375" width="13" height="127.7" fill="url(#lgd)"/>
<g class="lg">
<text x="996.2" y="378.9">25%</text>
<text x="996.2" y="416.4">10%</text>
<text x="996.2" y="442.7">0%</text>
<text x="996.2" y="467.9">-10%</text>
<text x="996.2" y="506.9">-25%</text>
</g>
<g font-family="'Liberation Sans',sans-serif" font-weight="bold">
<text font-size="61.5" stroke-width="3" stroke-linejoin="miter" y="501.6"><tspan fill="#000" stroke="#000" x="6.6 35.4 66.4 79.3">velo</tspan><tspan fill="#fa0a32" stroke="#fa0a32" x="109.3 140.6 154.2 189 236.2">viewe<tspan x="265.6" textLength="18.5" lengthAdjust="spacingAndGlyphs">r</tspan></tspan></text>
<text x="305.5" y="477.2" font-size="10.3" fill="#161616" textLength="69.4" lengthAdjust="spacing">POWERED BY</text>
<text x="305.8" y="503.3" font-size="25" letter-spacing="0.75" fill="#fc4c02" stroke="#fc4c02" stroke-width="1.4">STRAVA</text>
</g>
</svg>
</body></html>
